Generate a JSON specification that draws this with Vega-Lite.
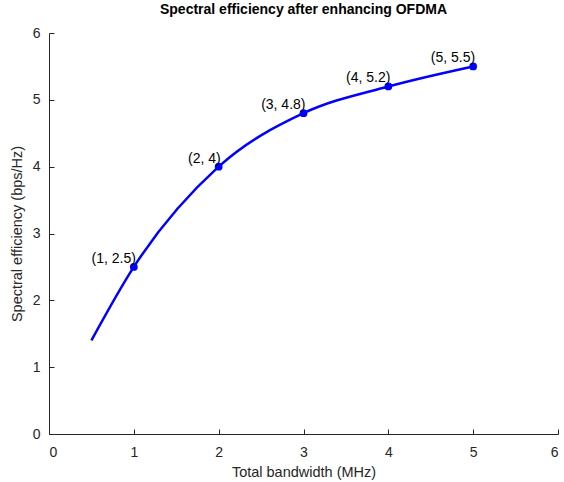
{
  "$schema": "https://vega.github.io/schema/vega-lite/v6.json",
  "width": 509,
  "height": 401,
  "autosize": {"type": "none"},
  "padding": {"left": 49, "top": 33, "right": 6, "bottom": 48},
  "background": "white",
  "title": {"text": "Spectral efficiency after enhancing OFDMA", "font": "Liberation Sans", "fontSize": 14, "fontWeight": "bold", "color": "#000000", "offset": 9, "anchor": "middle"},
  "config": {"view": {"stroke": null}, "font": "Liberation Sans"},
  "datasets": {
    "curve": [
      {"bw": 0.5, "se": 1.4},
      {"bw": 1, "se": 2.5},
      {"bw": 2, "se": 4},
      {"bw": 3, "se": 4.8},
      {"bw": 4, "se": 5.2},
      {"bw": 5, "se": 5.5}
    ],
    "pts": [
      {"bw": 1, "se": 2.5, "label": "(1, 2.5)"},
      {"bw": 2, "se": 4, "label": "(2, 4)"},
      {"bw": 3, "se": 4.8, "label": "(3, 4.8)"},
      {"bw": 4, "se": 5.2, "label": "(4, 5.2)"},
      {"bw": 5, "se": 5.5, "label": "(5, 5.5)"}
    ]
  },
  "encoding": {
    "x": {"field": "bw", "type": "quantitative", "scale": {"domain": [0, 6], "nice": false},
      "axis": {"title": "Total bandwidth (MHz)", "values": [0,1,2,3,4,5,6], "grid": false, "tickSize": -5, "domainColor": "#262626", "tickColor": "#262626", "labelColor": "#262626", "labelFontSize": 14, "labelPadding": 16, "titleFontSize": 14.5, "titleFontWeight": "normal", "titleColor": "#262626", "titlePadding": 6, "labelFont": "Liberation Sans", "titleFont": "Liberation Sans"}},
    "y": {"field": "se", "type": "quantitative", "scale": {"domain": [0, 6], "nice": false},
      "axis": {"title": "Spectral efficiency (bps/Hz)", "values": [0,1,2,3,4,5,6], "grid": false, "tickSize": -5, "domainColor": "#262626", "tickColor": "#262626", "labelColor": "#262626", "labelFontSize": 14, "labelPadding": 14, "titleFontSize": 14.5, "titleFontWeight": "normal", "titleColor": "#262626", "titlePadding": 8, "labelFont": "Liberation Sans", "titleFont": "Liberation Sans"}}
  },
  "layer": [
    {"data": {"name": "curve"}, "mark": {"type": "line", "color": "#0000FF", "strokeWidth": 2.5, "interpolate": "monotone"}},
    {"data": {"name": "pts"}, "mark": {"type": "circle", "color": "#0000FF", "opacity": 1, "size": 60}},
    {"data": {"name": "pts"}, "mark": {"type": "text", "align": "right", "baseline": "bottom", "dx": 2, "dy": -1, "fontSize": 14, "color": "#000000", "font": "Liberation Sans"}, "encoding": {"text": {"field": "label"}}}
  ]
}
